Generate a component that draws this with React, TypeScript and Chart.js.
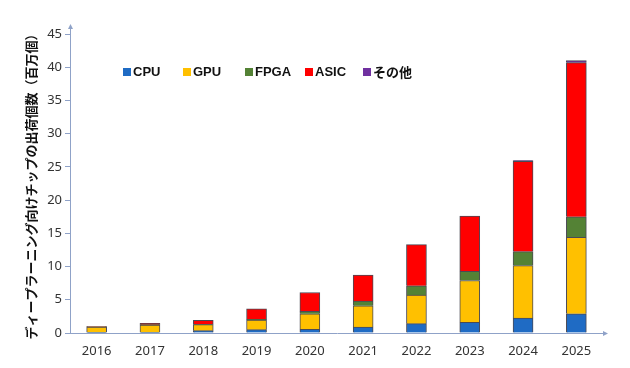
import React, { useEffect, useRef } from "react";
import { Chart, registerables } from "chart.js";

Chart.register(...registerables);

const years = ["2016", "2017", "2018", "2019", "2020", "2021", "2022", "2023", "2024", "2025"];
const cpu = [0.1, 0.1, 0.35, 0.5, 0.55, 0.9, 1.4, 1.6, 2.25, 2.9];
const gpu = [0.8, 1.1, 0.9, 1.45, 2.35, 3.2, 4.3, 6.3, 7.9, 11.5];
const fpga = [0.02, 0.05, 0.05, 0.1, 0.35, 0.7, 1.4, 1.4, 2.1, 3.1];
const asic = [0.03, 0.2, 0.6, 1.6, 2.85, 3.9, 6.2, 8.3, 13.6, 23.2];
const other = [0, 0, 0, 0, 0, 0, 0, 0, 0.1, 0.3];
const yTicks = [0, 5, 10, 15, 20, 25, 30, 35, 40, 45];
const seriesNames = ["CPU", "GPU", "FPGA", "ASIC", "その他"];
const seriesColors = ["#1F6BC4", "#FFC000", "#548235", "#FF0000", "#7030A0"];
const axisTitle = "ディープラーニング向けチップの出荷個数（百万個）";

const AXIS = "#8FA2C8";

const axisArrows = {
  id: "axisArrows",
  afterDraw(chart: any) {
    const { ctx, chartArea } = chart;
    const l = chartArea.left, b = chartArea.bottom;
    ctx.save();
    ctx.strokeStyle = AXIS;
    ctx.fillStyle = AXIS;
    ctx.lineWidth = 1;
    ctx.beginPath();
    ctx.moveTo(l + 0.5, b);
    ctx.lineTo(l + 0.5, chartArea.top - 7);
    ctx.moveTo(l, b + 0.5);
    ctx.lineTo(chartArea.right + 2, b + 0.5);
    ctx.stroke();
    ctx.beginPath();
    ctx.moveTo(l + 0.5, chartArea.top - 10);
    ctx.lineTo(l - 2, chartArea.top - 5);
    ctx.lineTo(l + 3, chartArea.top - 5);
    ctx.closePath();
    ctx.fill();
    ctx.beginPath();
    ctx.moveTo(chartArea.right + 5, b + 0.5);
    ctx.lineTo(chartArea.right, b - 2);
    ctx.lineTo(chartArea.right, b + 3);
    ctx.closePath();
    ctx.fill();
    ctx.restore();
  },
};

export default function App() {
  const ref = useRef<HTMLCanvasElement>(null);
  useEffect(() => {
    document.body.style.margin = "0";
    const values = [cpu, gpu, fpga, asic, other];
    const chart = new Chart(ref.current!, {
      type: "bar",
      data: {
        labels: years,
        datasets: values.map((v, i) => ({
          label: seriesNames[i],
          data: v,
          backgroundColor: seriesColors[i],
          borderColor: "#4A4A55",
          borderWidth: 1,
          barThickness: 20,
        })),
      },
      options: {
        animation: false,
        responsive: false,
        layout: { padding: { left: 8, top: 34, right: 27, bottom: 0 } },
        plugins: { legend: { display: false }, tooltip: { enabled: false } },
        scales: {
          x: {
            stacked: true,
            grid: { display: false },
            border: { display: false },
            ticks: { color: "#333", font: { family: "Noto Sans", size: 13 }, padding: 2 },
            afterFit: (s: any) => { s.height = 35; },
          },
          y: {
            stacked: true,
            min: 0,
            max: 45,
            afterBuildTicks: (s: any) => { s.ticks = yTicks.map((v) => ({ value: v })); },
            grid: { drawOnChartArea: false, drawTicks: true, tickLength: 5, color: AXIS },
            border: { display: false },
            ticks: { color: "#333", font: { family: "Noto Sans", size: 13 }, padding: 3 },
            title: {
              display: true,
              text: axisTitle,
              color: "#111",
              font: { family: "Noto Sans CJK JP", size: 13, weight: "bold" },
              padding: { top: 15, bottom: 0 },
            },
            afterFit: (s: any) => { s.width = 62; },
          },
        },
      },
      plugins: [axisArrows],
    });
    return () => chart.destroy();
  }, []);

  const legendPos = [123, 183, 245, 305, 363];
  return (
    <div style={{ position: "relative", width: 630, height: 368, background: "#fff" }}>
      <canvas ref={ref} width={630} height={368} style={{ display: "block" }} />
      {seriesNames.map((n, i) => (
        <div
          key={n}
          style={{
            position: "absolute",
            left: legendPos[i],
            top: 63,
            display: "flex",
            alignItems: "center",
            fontFamily: "'Liberation Sans', 'Noto Sans CJK JP', sans-serif",
            fontWeight: "bold",
            fontSize: 13,
            color: "#111",
            lineHeight: "18px",
          }}
        >
          <span style={{ display: "inline-block", width: 8, height: 8, background: seriesColors[i], marginRight: 2 }} />
          <span style={{ fontFamily: i === 4 ? "'Noto Sans CJK JP'" : "'Liberation Sans'" }}>{n}</span>
        </div>
      ))}
    </div>
  );
}
